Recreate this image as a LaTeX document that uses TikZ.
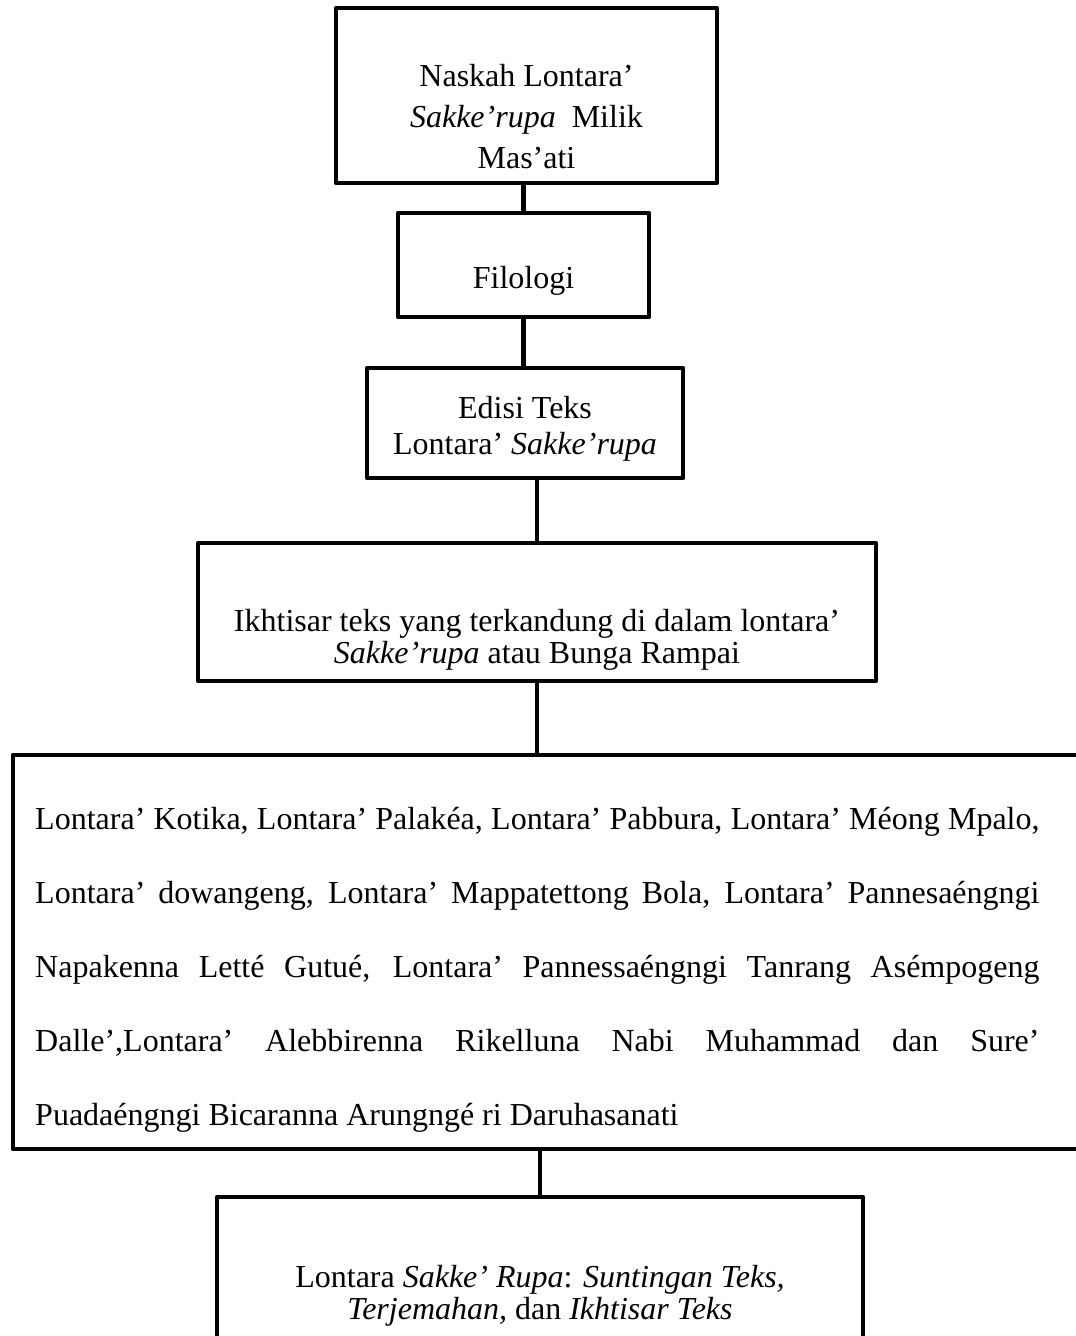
\documentclass[tikz,border=0pt]{standalone}
\usepackage{fontspec}
\setmainfont{Liberation Serif}
\usetikzlibrary{positioning}
\tikzstyle{chart} = [x = 0.375pt, y = -0.375pt]
\tikzstyle{frameStyle} = [draw=black, line width=1.7pt, line join=round, inner sep=0pt]
\tikzstyle{linkLine} = [draw=black, line width=1.7pt]
\tikzstyle{boxText} = [align=center, inner sep=0pt, font=\fontsize{12}{12}\selectfont]
\tikzstyle{listText} = [align=justify, inner sep=0pt, text width=376.6pt,
  font=\fontsize{12}{27.8}\selectfont]

\begin{document}
\begin{tikzpicture}[chart]
  \useasboundingbox (0,0) rectangle (1076,1336);
  % frames
  \node [frameStyle, minimum width=142.9pt, minimum height=65.6pt] (naskahBox) at (526.5,95.5) {};
  \node [frameStyle, minimum width=94.1pt, minimum height=39pt] (filologiBox) at (523.5,265) {};
  \node [frameStyle, minimum width=118.5pt, minimum height=41.25pt] (edisiBox) at (525,423) {};
  \node [frameStyle, minimum width=254.25pt, minimum height=51.75pt] (ikhtisarBox) at (537,612) {};
  \node [frameStyle, minimum width=400.9pt, minimum height=147.75pt] (daftarBox) at (547.5,952) {};
  \node [frameStyle, minimum width=242.25pt, minimum height=76.1pt] (hasilBox) at (540,1298.5) {};

  % texts
  \node [boxText, font=\fontsize{12}{15.4}\selectfont, below=21.7pt of naskahBox.north] (naskah)
    {Naskah Lontara’\\ \textit{Sakke’rupa}\ \ Milik\\ Mas’ati};
  \node [boxText, below=20.6pt of filologiBox.north] (filologi) {Filologi};
  \node [boxText, font=\fontsize{12}{13.5}\selectfont, below=11.3pt of edisiBox.north] (edisi)
    {Edisi Teks\\ Lontara’ \textit{Sakke’rupa}};
  \node [boxText, below=25.4pt of ikhtisarBox.north] (ikhtisar)
    {Ikhtisar teks yang terkandung di dalam lontara’\\ \textit{Sakke’rupa} atau Bunga Rampai};
  \node [listText, below right=20.2pt and 9pt of daftarBox.north west] (daftar)
    {\tolerance=9999 \hyphenpenalty=10000
     Lontara’ Kotika, Lontara’ Palakéa, Lontara’ Pabbura, Lontara’ Méong Mpalo,\linebreak
     Lontara’ dowangeng, Lontara’ Mappatettong Bola, Lontara’ Pannesaéngngi\linebreak
     Napakenna Letté Gutué, Lontara’ Pannessaéngngi Tanrang Asémpogeng\linebreak
     Dalle’,Lontara’ Alebbirenna Rikelluna Nabi Muhammad dan Sure’\linebreak
     Puadaéngngi Bicaranna Arungngé ri Daruhasanati};
  \node [boxText, below=26.3pt of hasilBox.north] (hasil)
    {Lontara \textit{Sakke’ Rupa}: \textit{Suntingan Teks,}\\ \textit{Terjemahan,} dan \textit{Ikhtisar Teks}};

  % connectors
  \draw [linkLine] (filologiBox.north) -- (filologiBox.north |- naskahBox.south);
  \draw [linkLine] (filologiBox.south) -- (filologiBox.south |- edisiBox.north);
  \draw [linkLine] (ikhtisarBox.north) -- (ikhtisarBox.north |- edisiBox.south);
  \draw [linkLine] (ikhtisarBox.south) -- (ikhtisarBox.south |- daftarBox.north);
  \draw [linkLine] (hasilBox.north) -- (hasilBox.north |- daftarBox.south);
\end{tikzpicture}
\end{document}
